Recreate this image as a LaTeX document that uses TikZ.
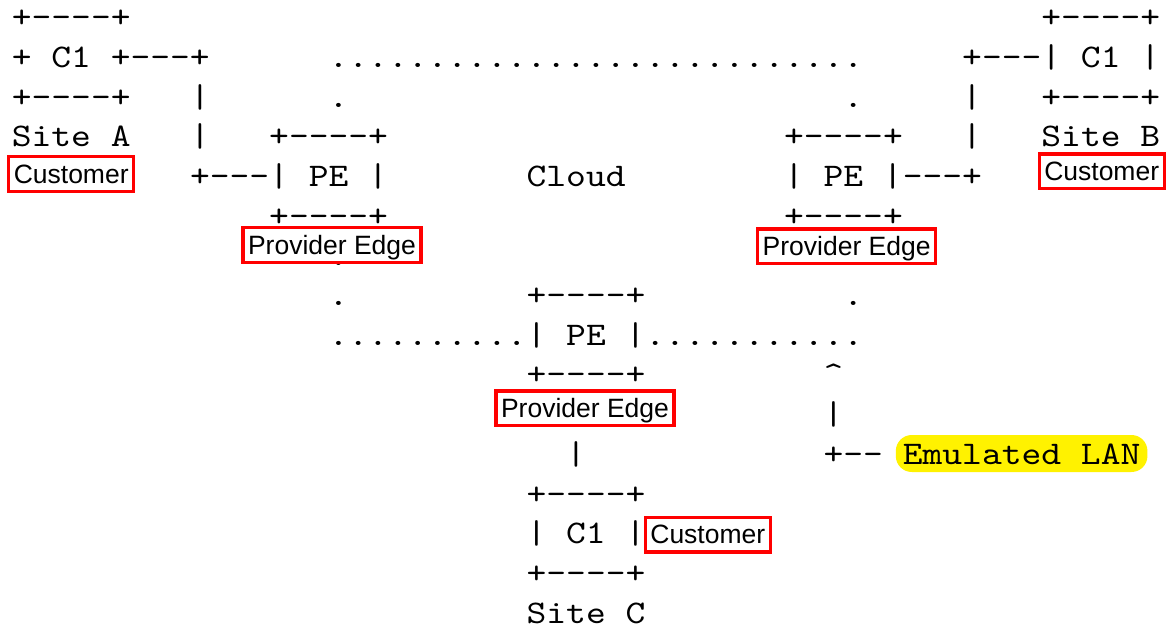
\documentclass[tikz,border=0pt]{standalone}
\usepackage{fontspec}
\newfontfamily\asciifont[FakeStretch=1.143]{lmmono10-regular.otf}
\newfontfamily\labelfont{Liberation Sans}
\newcommand\D{\hbox{-}}
\newcommand\Bx{+\D\D\D\D+}
\tikzset{
  asc/.style={anchor=base west, inner sep=0pt, outer sep=0pt,
    font=\asciifont\fontsize{33}{33}\selectfont},
  lbl/.style={draw=red, line width=3.2pt, fill=white, inner xsep=5pt, inner ysep=2pt,
    text height=24.5pt, text depth=6.2pt,
    font=\labelfont\fontsize{26.5}{26.5}\selectfont},
  hilite/.style={asc, fill=yellow, rounded corners=16pt, inner xsep=7pt, inner ysep=2pt,
    text height=27.3pt, text depth=5.7pt, xshift=-7pt}
}
\begin{document}
\begin{tikzpicture}[x=1pt,y=-1pt]
\useasboundingbox (0,0) rectangle (1175,634);
\begin{scope}[shift={(11.8,27.6)}, x=19.8pt, y=-39.7pt]
% row 0
\node[asc] (a0) at (0,0) {\Bx};
\node[asc] (b0) at (52,0) {\Bx};
% row 1
\node[asc] (c1a) at (0,1) {+ C1 +\D\D\D+};
\node[asc] (top) at (16,1) {...........................};
\node[asc] (c1b) at (48,1) {+\D\D\D| C1 |};
% row 2
\node[asc] (a2) at (0,2) {\Bx};
\node[asc] (va2) at (9,2) {|};
\node[asc] (dl2) at (16,2) {.};
\node[asc] (dr2) at (42,2) {.};
\node[asc] (vb2) at (48,2) {|};
\node[asc] (b2) at (52,2) {\Bx};
% row 3
\node[asc] (siteA) at (0,3) {Site A};
\node[asc] (va3) at (9,3) {|};
\node[asc] (pl3) at (13,3) {\Bx};
\node[asc] (pr3) at (39,3) {\Bx};
\node[asc] (vb3) at (48,3) {|};
\node[asc] (siteB) at (52,3) {Site B};
% row 4
\node[asc] (peA) at (9,4) {+\D\D\D| PE |};
\node[asc] (cloud) at (26,4) {Cloud};
\node[asc] (peB) at (39,4) {| PE |\D\D\D+};
% row 5
\node[asc] (pl5) at (13,5) {\Bx};
\node[asc] (pr5) at (39,5) {\Bx};
% row 6
\node[asc] (dl6) at (16,6) {.};
\node[asc] (dr6) at (42,6) {.};
% row 7
\node[asc] (dl7) at (16,7) {.};
\node[asc] (pc7) at (26,7) {\Bx};
\node[asc] (dr7) at (42,7) {.};
% row 8
\node[asc] (peC) at (16,8) {..........| PE |...........};
% row 9
\node[asc] (pc9) at (26,9) {\Bx};
\node[asc] (caret) at (41,9) {\textasciicircum};
% row 10
\node[asc] (vc10) at (28,10) {|};
\node[asc] (ve10) at (41,10) {|};
% row 11
\node[asc] (vc11) at (28,11) {|};
\node[asc] (ve11) at (41,11) {+\D\D};
\node[hilite] (elan) at (45,11) {Emulated LAN};
% rows 12-15
\node[asc] (c12) at (26,12) {\Bx};
\node[asc] (c13) at (26,13) {| C1 |};
\node[asc] (c14) at (26,14) {\Bx};
\node[asc] (siteC) at (26,15) {Site C};
\end{scope}
% labels
\node[lbl] (custA) at (71.2,173.9) {Customer};
\node[lbl] (custB) at (1101.7,171.3) {Customer};
\node[lbl] (custC) at (707.8,534.7) {Customer};
\node[lbl] (provA) at (332,245.2) {Provider Edge};
\node[lbl] (provB) at (846.7,246.3) {Provider Edge};
\node[lbl] (provC) at (585,408.3) {Provider Edge};
\end{tikzpicture}
\end{document}
